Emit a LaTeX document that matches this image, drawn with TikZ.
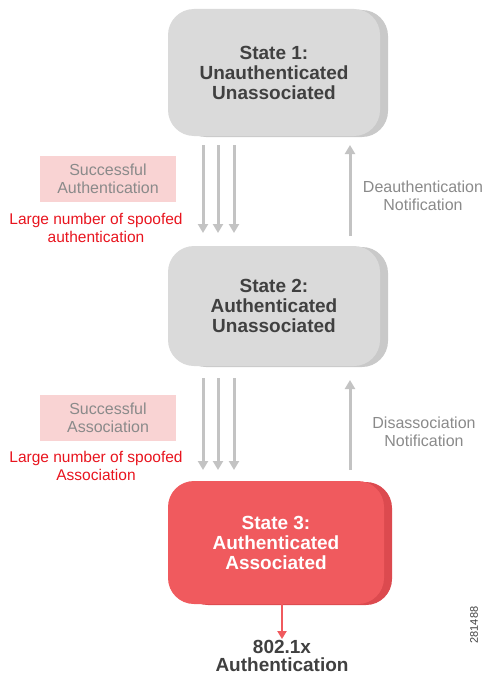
\documentclass[tikz,border=0pt]{standalone}
\usepackage{fontspec}
\setmainfont{Liberation Sans}
\usetikzlibrary{arrows.meta}
\definecolor{boxgray}{HTML}{DADADA}
\definecolor{boxshade}{HTML}{C9C9C9}
\definecolor{statetxt}{HTML}{404040}
\definecolor{arrgray}{HTML}{C3C3C3}
\definecolor{redbox}{HTML}{F05A5E}
\definecolor{redshade}{HTML}{DC4A4F}
\definecolor{pinkbox}{HTML}{F9D3D3}
\definecolor{labgray}{HTML}{8A8A8A}
\definecolor{spoofred}{HTML}{E8141E}
\begin{document}
\begin{tikzpicture}[x=1pt,y=-1pt,
  statebox/.style={rounded corners=26pt,minimum width=212pt,align=center,font=\bfseries\fontsize{19}{20}\selectfont,inner sep=0pt},
  grayarrow/.style={draw=arrgray,line width=3pt,-{Triangle[length=9pt,width=10pt]}},
  lab/.style={align=center,text=labgray,font=\fontsize{16}{17.5}\selectfont},
  spoof/.style={align=center,text=spoofred,font=\fontsize{15.5}{18}\selectfont}]
\useasboundingbox (0,0) rectangle (487,677);
% shadows
\fill[boxshade,rounded corners=26pt] (180,10) rectangle (388,137);
\fill[boxshade,rounded corners=26pt] (180,247) rectangle (388,367);
\fill[redshade,rounded corners=26pt] (182,482) rectangle (392,605);
% states
\node[statebox,fill=boxgray,text=statetxt,minimum height=127pt] (s1) at (274,72.5) {State 1:\\Unauthenticated\\Unassociated};
\node[statebox,fill=boxgray,text=statetxt,minimum height=120pt] (s2) at (274,306) {State 2:\\Authenticated\\Unassociated};
\node[statebox,fill=redbox,text=white,minimum height=123pt,minimum width=216pt] (s3) at (276,542.5) {State 3:\\Authenticated\\Associated};
% coordinates
\coordinate (a1s) at (203,145); \coordinate (a1e) at (203,233);
\coordinate (a2s) at (218,145); \coordinate (a2e) at (218,233);
\coordinate (a3s) at (234,145); \coordinate (a3e) at (234,233);
\coordinate (u1s) at (350,236); \coordinate (u1e) at (350,145);
\coordinate (b1s) at (203,378); \coordinate (b1e) at (203,470);
\coordinate (b2s) at (218,378); \coordinate (b2e) at (218,470);
\coordinate (b3s) at (234,378); \coordinate (b3e) at (234,470);
\coordinate (u2s) at (350,470); \coordinate (u2e) at (350,380);
\draw[grayarrow] (a1s) -- (a1e);
\draw[grayarrow] (a2s) -- (a2e);
\draw[grayarrow] (a3s) -- (a3e);
\draw[grayarrow] (u1s) -- (u1e);
\draw[grayarrow] (b1s) -- (b1e);
\draw[grayarrow] (b2s) -- (b2e);
\draw[grayarrow] (b3s) -- (b3e);
\draw[grayarrow] (u2s) -- (u2e);
% labels
\node[lab,fill=pinkbox,minimum width=136pt,minimum height=46pt,inner sep=0pt] (sa) at (108,179) {Successful\\Authentication};
\node[spoof] (sp1) at (96,228) {Large number of spoofed\\authentication};
\node[lab] (deauth) at (423,196) {Deauthentication\\Notification};
\node[lab,fill=pinkbox,minimum width=136pt,minimum height=46pt,inner sep=0pt] (sas) at (108,418) {Successful\\Association};
\node[spoof] (sp2) at (96,466) {Large number of spoofed\\Association};
\node[lab] (disas) at (424,432) {Disassociation\\Notification};
% bottom
\node[align=center,text=statetxt,font=\bfseries\fontsize{19}{18}\selectfont,inner sep=1pt] (dot1x) at (282,656) {802.1x\\Authentication};
\draw[redbox,line width=2pt,-{Triangle[length=8pt,width=9pt]}] (s3.south -| dot1x) -- (dot1x.north);
\node[rotate=90,text=statetxt,font=\fontsize{11}{12}\selectfont] (fig) at (474,625) {281488};
\end{tikzpicture}
\end{document}
